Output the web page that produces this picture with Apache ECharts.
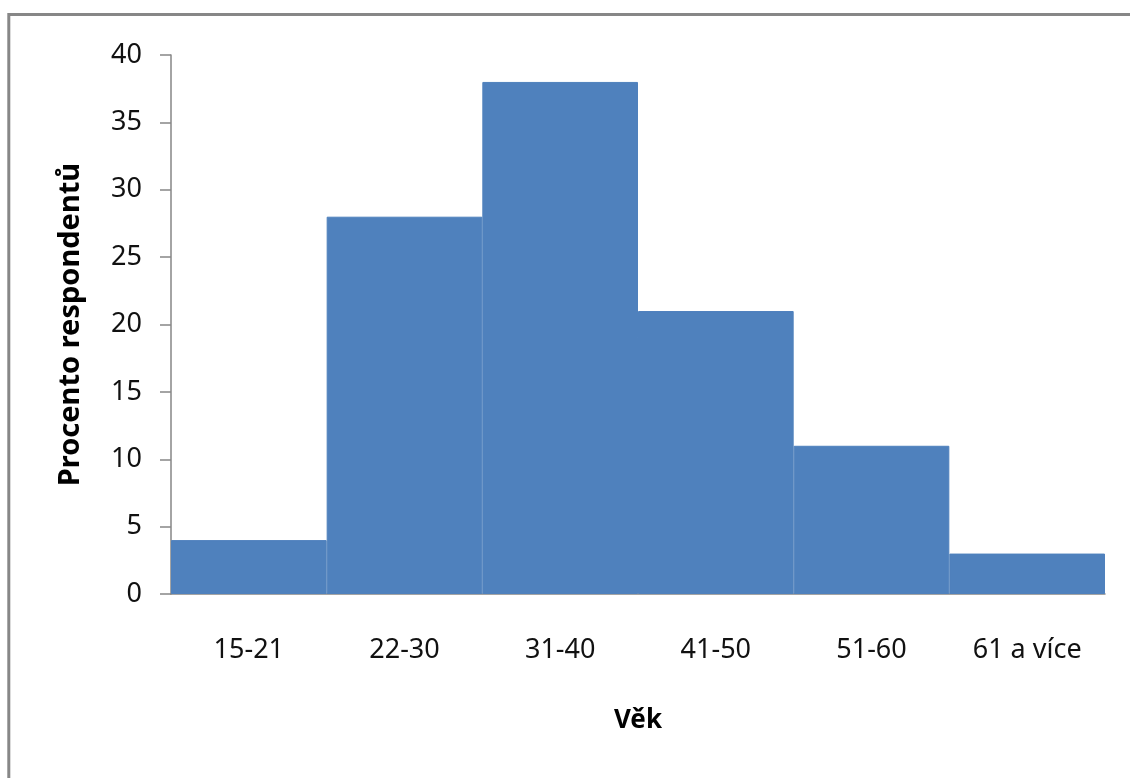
<!DOCTYPE html>
<html>
<head>
<meta charset="utf-8">
<script src="https://cdn.jsdelivr.net/npm/echarts@6/dist/echarts.min.js"></script>
<style>
html,body{margin:0;padding:0;background:#fff;}
#chart{width:1130px;height:778px;}
</style>
</head>
<body>
<div id="chart"></div>
<script>
const categories = ['15-21', '22-30', '31-40', '41-50', '51-60', '61 a více'];
const values = [4, 28, 38, 21, 11, 3];
const yTicks = [0, 5, 10, 15, 20, 25, 30, 35, 40];

const chart = echarts.init(document.getElementById('chart'));
const font = '"Noto Sans", sans-serif';
chart.setOption({
  animation: false,
  backgroundColor: '#fff',
  graphic: [
    { type: 'line', shape: { x1: 8, y1: 14.5, x2: 1130, y2: 14.5 }, style: { stroke: '#878787', lineWidth: 3 } },
    { type: 'line', shape: { x1: 8.8, y1: 13, x2: 8.8, y2: 778 }, style: { stroke: '#878787', lineWidth: 3 } }
  ],
  grid: { left: 171, right: 25, top: 55, bottom: 184, containLabel: false },
  xAxis: {
    type: 'category',
    data: categories,
    name: 'Věk',
    nameLocation: 'middle',
    nameGap: 114,
    nameTextStyle: { fontFamily: font, fontSize: 26, fontWeight: 'bold', color: '#000' },
    axisLine: { lineStyle: { color: '#868686', width: 1.5 } },
    axisTick: { show: false },
    axisLabel: { fontFamily: font, fontSize: 27, color: '#111', margin: 43 }
  },
  yAxis: {
    type: 'value',
    min: yTicks[0],
    max: yTicks[yTicks.length - 1],
    interval: yTicks[1] - yTicks[0],
    name: 'Procento respondentů',
    nameLocation: 'middle',
    nameGap: 86,
    nameTextStyle: { fontFamily: font, fontSize: 29, fontWeight: 'bold', color: '#000' },
    axisLine: { show: true, lineStyle: { color: '#868686', width: 1.5 } },
    axisTick: { show: true, length: 11, lineStyle: { color: '#868686', width: 1.5 } },
    splitLine: { show: false },
    axisLabel: { fontFamily: font, fontSize: 27, color: '#111', margin: 29 }
  },
  series: [{
    type: 'bar',
    data: values,
    barCategoryGap: '0%',
    itemStyle: { color: '#4F81BD', borderColor: '#4F81BD', borderWidth: 1 }
  }]
});
</script>
</body>
</html>
